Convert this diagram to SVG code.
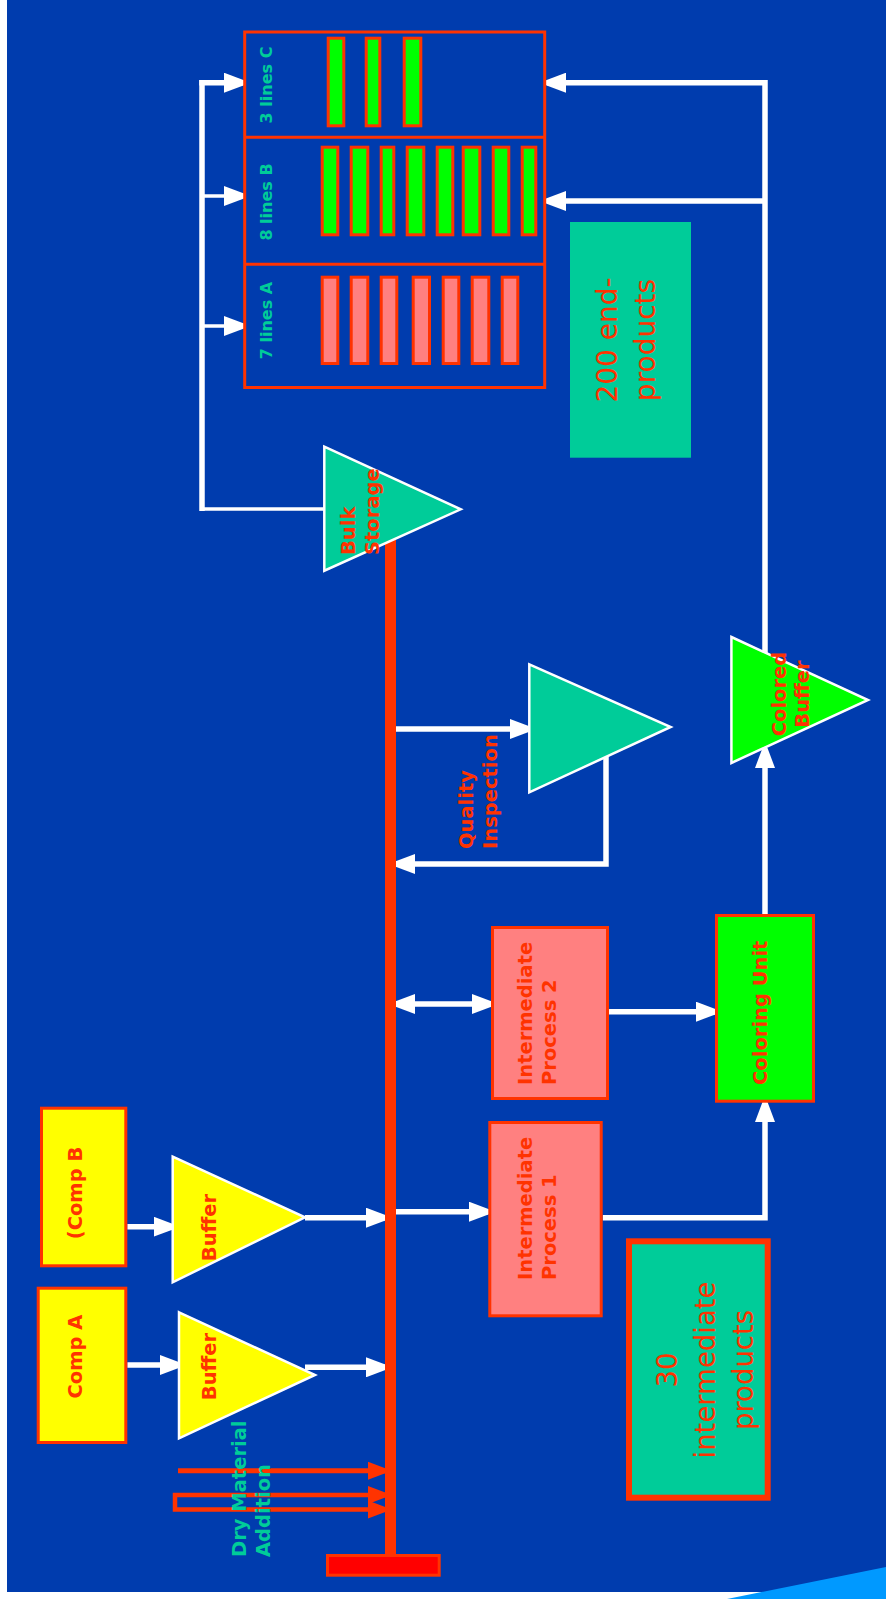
<svg xmlns="http://www.w3.org/2000/svg" width="886" height="1599" viewBox="0 0 886 1599">
<defs>
<marker id="aw" viewBox="0 0 20 20" refX="19" refY="10" markerWidth="20" markerHeight="20" markerUnits="userSpaceOnUse" orient="auto-start-reverse"><path d="M0,0 L20,7.5 L20,12.5 L0,20 z" fill="#FFFFFF"/></marker>
<marker id="ar" viewBox="0 0 20 20" refX="19" refY="10" markerWidth="18" markerHeight="18" markerUnits="userSpaceOnUse" orient="auto-start-reverse"><path d="M0,0 L20,7.5 L20,12.5 L0,20 z" fill="#FF3300"/></marker>
</defs>
<style>
.w{fill:none;stroke:#FFFFFF;stroke-width:5.5}
.wt{fill:none;stroke:#FFFFFF;stroke-width:3.5}
.r{fill:none;stroke:#FF3300;stroke-width:5}
.box{stroke:#FF3300;stroke-width:3}
.tri{stroke:#FFFFFF;stroke-width:2.5}
.lbl{font-family:"DejaVu Sans","Liberation Sans",sans-serif;font-weight:bold;font-size:19.5px;fill:#FF3300}
.tl{font-family:"DejaVu Sans","Liberation Sans",sans-serif;font-weight:bold;fill:#00CC99}
.big{font-family:"DejaVu Sans","Liberation Sans",sans-serif;fill:#FF3300;text-anchor:middle}
.pk{fill:#FF8080}
.gr{fill:#00FF00}
</style>
<rect x="0" y="0" width="886" height="1599" fill="#FFFFFF"/>
<rect x="7" y="0" width="879" height="1592" fill="#003CAE"/>
<polygon points="727,1599 886,1567 886,1599" fill="#0099FF"/>

<g id="connectors">
<path class="w" d="M202,80 V511"/>
<path class="w" d="M199.3,82.7 H243" marker-end="url(#aw)"/>
<path class="wt" d="M202,196 H243" marker-end="url(#aw)"/>
<path class="wt" d="M202,326 H243" marker-end="url(#aw)"/>
<path class="wt" d="M325,509 H200"/>
<path class="w" d="M765,655 V82.7 H547" marker-end="url(#aw)"/>
<path class="w" d="M765,201 H547" marker-end="url(#aw)"/>
<path class="w" d="M396,729 H529" marker-end="url(#aw)"/>
<path class="w" d="M606,757 V864 H396" marker-end="url(#aw)"/>
<path class="w" d="M396,1004 H491" marker-start="url(#aw)" marker-end="url(#aw)"/>
<path class="w" d="M609,1011.7 H715" marker-end="url(#aw)"/>
<path class="w" d="M765,914 V749" marker-end="url(#aw)"/>
<path class="w" d="M602.7,1217.7 H765 V1103" marker-end="url(#aw)"/>
<path class="w" d="M396,1211.7 H488" marker-end="url(#aw)"/>
<path class="w" d="M127.3,1226.7 H172.7" marker-end="url(#aw)"/>
<path class="w" d="M305,1217.7 H385" marker-end="url(#aw)"/>
<path class="w" d="M127.3,1365 H179" marker-end="url(#aw)"/>
<path class="w" d="M305,1367.3 H385" marker-end="url(#aw)"/>
<path class="r" d="M178,1470.7 H385" marker-end="url(#ar)"/>
<path class="r" style="stroke-width:4.5" d="M385,1495 H175 V1509.5 H385" marker-start="url(#ar)" marker-end="url(#ar)"/>
</g>

<g id="lines">
<rect x="244.7" y="32" width="300" height="355.5" fill="none" class="box"/>
<line x1="244.7" y1="137.3" x2="544.7" y2="137.3" class="box"/>
<line x1="244.7" y1="264.3" x2="544.7" y2="264.3" class="box"/>
<g class="box gr">
<rect x="328.2" y="38.2" width="15.6" height="87.6"/>
<rect x="366.2" y="38.2" width="13.6" height="87.6"/>
<rect x="404.2" y="38.2" width="16.6" height="87.6"/>
<rect x="322.2" y="147.2" width="15.6" height="87.6"/>
<rect x="351.2" y="147.2" width="16.6" height="87.6"/>
<rect x="381.2" y="147.2" width="12.6" height="87.6"/>
<rect x="407.2" y="147.2" width="16.6" height="87.6"/>
<rect x="437.2" y="147.2" width="15.6" height="87.6"/>
<rect x="463.2" y="147.2" width="16.6" height="87.6"/>
<rect x="493.2" y="147.2" width="15.6" height="87.6"/>
<rect x="522.2" y="147.2" width="13.6" height="87.6"/>
</g>
<g class="box pk">
<rect x="322.2" y="277.2" width="15.6" height="86.3"/>
<rect x="351.2" y="277.2" width="16.6" height="86.3"/>
<rect x="381.2" y="277.2" width="15.6" height="86.3"/>
<rect x="413.2" y="277.2" width="16.3" height="86.3"/>
<rect x="443.2" y="277.2" width="15.6" height="86.3"/>
<rect x="472.2" y="277.2" width="16.6" height="86.3"/>
<rect x="502.2" y="277.2" width="15.6" height="86.3"/>
</g>
<text class="tl" font-size="16" text-anchor="middle" transform="translate(272,85) rotate(-90)">3 lines C</text>
<text class="tl" font-size="16" text-anchor="middle" transform="translate(272,202) rotate(-90)">8 lines B</text>
<text class="tl" font-size="16" text-anchor="middle" transform="translate(272,320.5) rotate(-90)">7 lines A</text>
</g>

<g id="end-products">
<rect x="570" y="222" width="121" height="235.7" fill="#00CC99"/>
<text class="big" font-size="28" transform="translate(617,340) rotate(-90)">200 end-</text>
<text class="big" font-size="28" transform="translate(655,340) rotate(-90)">products</text>
</g>

<g id="bus">
<rect x="385" y="540" width="11" height="1015" fill="#FF3300"/>
<rect x="327.5" y="1555.5" width="111.7" height="19.7" fill="#FF0000" class="box"/>
</g>

<g id="bulk-storage">
<polygon class="tri" points="324.3,446.7 460.7,509.3 324.3,570.7" fill="#00CC99"/>
<text class="lbl" transform="translate(355,555) rotate(-90)">Bulk</text>
<text class="lbl" transform="translate(379,555) rotate(-90)">Storage</text>
</g>

<g id="quality-inspection">
<polygon class="tri" points="529.3,664.3 670.7,727 529.3,792.3" fill="#00CC99"/>
<text class="lbl" transform="translate(473,849) rotate(-90)">Quality</text>
<text class="lbl" transform="translate(497,849) rotate(-90)">Inspection</text>
</g>

<g id="colored-buffer">
<polygon class="tri" points="731.4,637 868,700 731.4,763" fill="#00FF00"/>
<text class="lbl" text-anchor="middle" transform="translate(786,694) rotate(-90)">Colored</text>
<text class="lbl" text-anchor="middle" transform="translate(809,694) rotate(-90)">Buffer</text>
</g>

<g id="intermediate-process-2">
<rect x="492.5" y="927.5" width="115" height="171" class="box pk"/>
<text class="lbl" transform="translate(532,1085) rotate(-90)">Intermediate</text>
<text class="lbl" transform="translate(556,1085) rotate(-90)">Process 2</text>
</g>

<g id="coloring-unit">
<rect x="716.5" y="915.5" width="97" height="185.7" class="box gr"/>
<text class="lbl" transform="translate(767,1085) rotate(-90)">Coloring Unit</text>
</g>

<g id="intermediate-process-1">
<rect x="489.8" y="1122.5" width="111.4" height="193.3" class="box pk"/>
<text class="lbl" transform="translate(532,1280) rotate(-90)">Intermediate</text>
<text class="lbl" transform="translate(556,1280) rotate(-90)">Process 1</text>
</g>

<g id="intermediate-products">
<rect x="629" y="1241.3" width="138.7" height="256.4" fill="#00CC99" stroke="#FF3300" stroke-width="6"/>
<text class="big" font-size="27.5" transform="translate(676.7,1370) rotate(-90)">30</text>
<text class="big" font-size="27.5" transform="translate(715,1370) rotate(-90)">intermediate</text>
<text class="big" font-size="27.5" transform="translate(753,1370) rotate(-90)">products</text>
</g>

<g id="comp-b">
<rect x="41.5" y="1108.2" width="84.3" height="157.6" fill="#FFFF00" class="box"/>
<text class="lbl" text-anchor="middle" transform="translate(82,1193) rotate(-90)">(Comp B</text>
</g>

<g id="comp-a">
<rect x="38.2" y="1288.2" width="87.6" height="154.3" fill="#FFFF00" class="box"/>
<text class="lbl" text-anchor="middle" transform="translate(82,1356.5) rotate(-90)">Comp A</text>
</g>

<g id="buffer-b">
<polygon class="tri" points="172.7,1156.7 305,1217.3 172.7,1282.3" fill="#FFFF00"/>
<text class="lbl" text-anchor="middle" transform="translate(216,1227.5) rotate(-90)">Buffer</text>
</g>

<g id="buffer-a">
<polygon class="tri" points="179,1312.3 315,1375 179,1438.3" fill="#FFFF00"/>
<text class="lbl" text-anchor="middle" transform="translate(216,1366.5) rotate(-90)">Buffer</text>
</g>

<g id="dry-material">
<text class="tl" font-size="19.5" transform="translate(246,1557) rotate(-90)">Dry Material</text>
<text class="tl" font-size="19.5" transform="translate(270,1557) rotate(-90)">Addition</text>
</g>
</svg>
